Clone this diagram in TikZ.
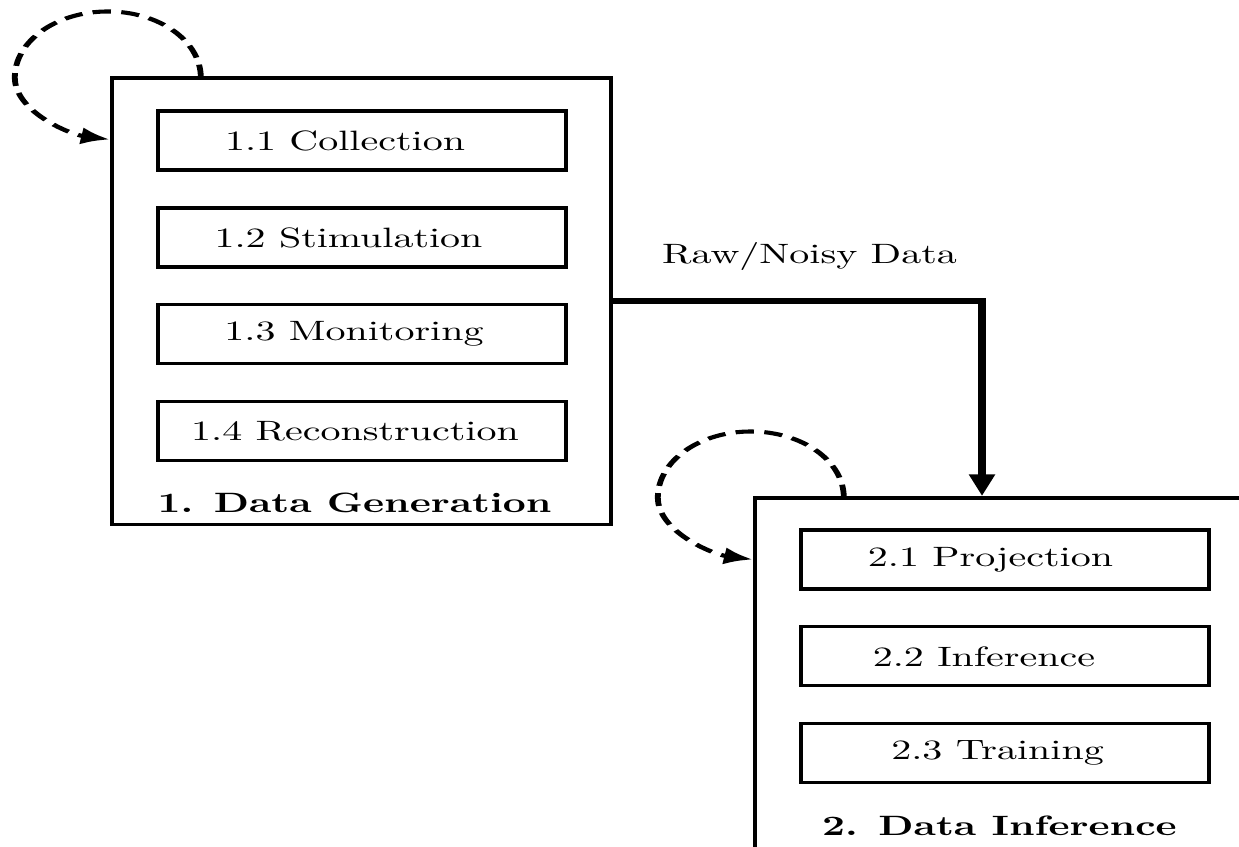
\documentclass[tikz,border=0pt]{standalone}
\usetikzlibrary{arrows.meta,calc}
\begin{document}
\begin{tikzpicture}
% page frame: the second stage runs off the right and bottom edges
\useasboundingbox (0,0) rectangle (309.75pt,-211.5pt);
\clip (0,0) rectangle (309.75pt,-211.5pt);
\begin{scope}[x=0.25pt, y=-0.357143pt, transform canvas={yscale=0.7},
  stage/.style={draw, line width=1.1pt, minimum width=124.75pt, inner sep=0pt},
  task/.style={draw, line width=1.1pt, minimum width=102pt, minimum height=21.07pt, inner sep=0pt},
  pad/.style={execute at end node={\kern#1}},
  title/.style={anchor=base, font=\bfseries},
  selfloop/.style={line width=1.45pt, dash pattern=on 4.6pt off 2.6pt,
    -{Latex[length=7.2pt,width=6.2pt]}},
  flow/.style={line width=2pt, -{Triangle[length=7.9pt,width=6pt]}}]

  % stage 1
  \node[stage, minimum height=159.46pt] (gen) at (361.5,301.25) {};
  \node[task, pad=8.5pt]  (collect) at (362,140.5) {1.1 Collection};
  \node[task, pad=6.75pt] (stim)    at (362,237.5) {1.2 Stimulation};
  \node[task, pad=4pt]    (monit)   at (362,334)   {1.3 Monitoring};
  \node[task, pad=3.5pt]  (recon)   at (362,431)   {1.4 Reconstruction};
  \node[title] (gentitle) at (354.5,512) {1. Data Generation};

  % stage 2
  \node[stage, minimum height=125.71pt] (inf) at (1004.5,674) {};
  \node[task, pad=7.25pt] (proj)  at (1005,559.5) {2.1 Projection};
  \node[task, pad=10.5pt] (infer) at (1005,656.3) {2.2 Inference};
  \node[task, pad=3.75pt] (train) at (1005,753)   {2.3 Training};
  \node[title] (inftitle) at (999.5,835) {2. Data Inference};

  % hand-over between the stages
  \coordinate (drop) at (982,0);
  \draw[flow] (gen.east) -| (inf.north -| drop);
  \node[anchor=base] (rawlbl) at (809.5,263) {Raw/Noisy Data};

  % iteration loops: up over the top, round the left, back into the box
  \foreach \s in {gen,inf}{
    \draw[selfloop] ($(\s.north west)+(91,1)$)
      .. controls +(0,-36.5) and +(51.4,0) .. ++(-93,-66)
      .. controls +(-51.4,0) and +(0,-36.5) .. ++(-93,66)
      .. controls +(0,34) and +(-40,-5) .. ($(\s.north west)+(0,63)$);
  }
\end{scope}
\end{tikzpicture}
\end{document}
